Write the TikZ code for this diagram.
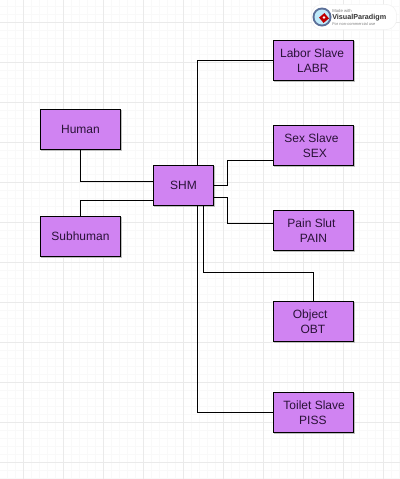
\documentclass[tikz,border=0pt]{standalone}
\usepackage{fontspec}
\setmainfont{Liberation Sans}
\definecolor{boxfill}{HTML}{D083F2}
\definecolor{boxtext}{HTML}{2A1238}
\definecolor{gridminor}{HTML}{F9F9F9}
\definecolor{gridmajor}{HTML}{EAEAEA}
\newcommand{\pxs}[1]{\hspace*{#1pt}}
\tikzset{
  ent/.style={draw=black,line width=.75pt,fill=boxfill,text=boxtext,minimum height=30pt,inner sep=0pt,align=center,font=\fontsize{9pt}{11.25pt}\selectfont,
    preaction={draw=black!25,fill=black!25,line width=.4pt,transform canvas={xshift=.75pt,yshift=-.75pt}}},
  wide/.style={ent,minimum width=60pt},
  mid/.style={ent,minimum width=45pt},
  link/.style={draw=black,line width=.75pt},
}
\begin{document}
\begin{tikzpicture}[x=.75pt,y=-.75pt]
\useasboundingbox (0,0) rectangle (400,479);
\fill[white] (0,0) rectangle (400,479);
\foreach \v in {-0.5,7.5,...,400} \draw[gridminor,line width=.75pt] (\v,0) -- (\v,479);
\foreach \v in {-1.5,6.5,...,479} \draw[gridminor,line width=.75pt] (0,\v) -- (400,\v);
\foreach \v in {23.5,63.5,...,400} \draw[gridmajor,line width=.75pt] (\v,0) -- (\v,479);
\foreach \v in {22.5,62.5,...,479} \draw[gridmajor,line width=.75pt] (0,\v) -- (400,\v);
\node[mid] (shm) at (183.5,185.5) {SHM};
\node[wide] (human) at (80.5,129.5) {Human};
\node[wide] (subhuman) at (80.5,236.5) {Subhuman};
\node[wide] (labr) at (313.5,60.5) {\pxs{-2}Labor Slave\\\pxs{-1}LABR};
\node[wide] (sex) at (313.5,145.5) {\pxs{-3}Sex Slave\\\pxs{2}SEX};
\node[wide] (pain) at (313.5,230.5) {\pxs{-3}Pain Slut\\\pxs{0}PAIN};
\node[wide] (obt) at (313.5,321.5) {\pxs{-5}Object\\\pxs{-1}OBT};
\node[wide] (piss) at (313.5,412.5) {\pxs{1}Toilet Slave\\\pxs{-1}PISS};
\coordinate (hj) at (80.5,181.5);
\draw[link] (human.south) -- (hj) -- (shm.west |- hj);
\coordinate (sj) at (80.5,200.5);
\draw[link] (subhuman.north) -- (sj) -- (shm.west |- sj);
\coordinate (lj) at (197.5,60.5);
\draw[link] (labr.west) -- (lj) -- (lj |- shm.north);
\coordinate (pj) at (197.5,412.5);
\draw[link] (piss.west) -- (pj) -- (pj |- shm.south);
\coordinate (oa) at (203.5,272.5);
\coordinate (ob) at (313.5,272.5);
\draw[link] (oa |- shm.south) -- (oa) -- (ob) -- (ob |- obt.north);
\coordinate (xa) at (227.5,185.5);
\coordinate (xb) at (227.5,160.5);
\draw[link] (shm.east |- xa) -- (xa) -- (xb) -- (sex.west |- xb);
\coordinate (ya) at (227.5,197.5);
\coordinate (yb) at (227.5,223.5);
\draw[link] (shm.east |- ya) -- (ya) -- (yb) -- (pain.west |- yb);
% watermark
\node[draw=black!6,fill=white,rounded corners=8pt,minimum width=64pt,minimum height=19pt,inner sep=0pt] (badge) at (354,17) {};
\fill[cyan!45!blue!60!black!85] (322,17) circle (9.5);
\fill[cyan!25] (322,17) circle (7.5);
\fill[red!75!black,rotate around={40:(324,18)}] (320.5,14.5) rectangle (327.5,21.5);
\fill[white] (324,17.5) circle (1.3);
\node[inner sep=0pt,anchor=west,text=black!50,font=\fontsize{3.2pt}{4pt}\selectfont] (made) at (332,11) {Made with};
\node[inner sep=0pt,anchor=west,text=black!80,font=\bfseries\fontsize{5.4pt}{7pt}\selectfont] (vp) at (332,17.5) {VisualParadigm};
\node[inner sep=0pt,anchor=west,text=black!50,font=\fontsize{3pt}{4pt}\selectfont] (nc) at (332,24) {For non-commercial use};
\end{tikzpicture}
\end{document}
